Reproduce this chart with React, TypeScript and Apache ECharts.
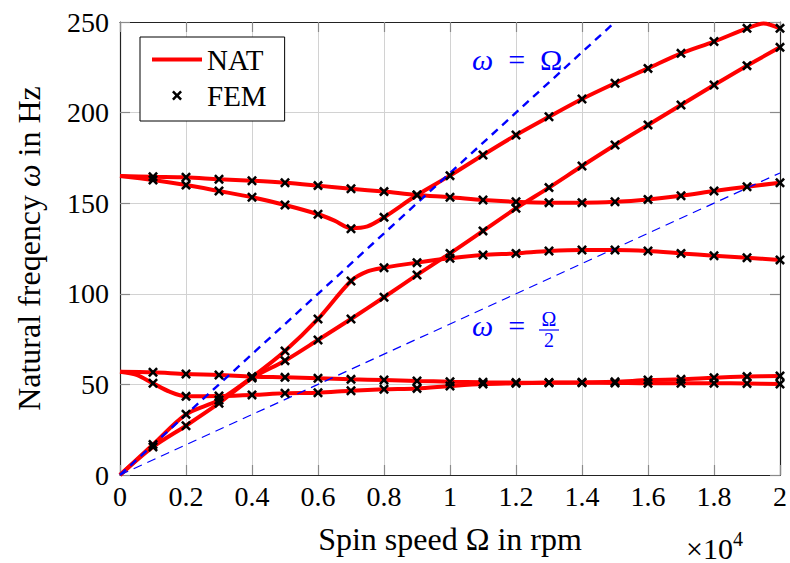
import { useEffect, useRef } from "react";
import * as echarts from "echarts";

// Spin speed in units of 10^4 rpm
const femSpeed = [0.1, 0.2, 0.3, 0.4, 0.5, 0.6, 0.7, 0.8, 0.9, 1.0, 1.1, 1.2, 1.3, 1.4, 1.5, 1.6, 1.7, 1.8, 1.9, 2.0];

// FEM natural frequencies (Hz), one array per mode
const femModeA = [56.7, 55.7, 55.2, 54.3, 53.9, 53.4, 52.8, 52.4, 51.9, 51.5, 51.2, 51.0, 50.9, 50.9, 50.8, 50.6, 50.6, 50.6, 50.5, 50.2];
const femModeB = [50.6, 43.4, 43.6, 44.2, 45.1, 45.4, 46.5, 47.3, 47.8, 49.1, 50.2, 50.6, 51.0, 51.2, 51.4, 52.4, 52.8, 53.7, 54.3, 54.6];
const femModeC = [16.8, 33.5, 41.4, 54.0, 68.4, 86.1, 107.1, 114.4, 117.2, 119.6, 121.4, 122.3, 123.6, 124.2, 124.2, 123.6, 122.3, 121.0, 119.9, 118.7];
const femModeD = [15.5, 27.2, 39.6, 53.5, 63.1, 74.5, 86.1, 98.1, 110.4, 122.3, 134.7, 147.2, 158.6, 170.5, 182.1, 193.2, 204.2, 215.2, 225.9, 236.0];
const femModeE = [164.6, 164.3, 163.2, 162.4, 161.3, 159.7, 158.0, 156.4, 154.5, 153.3, 151.8, 150.8, 150.3, 150.3, 150.8, 152.1, 154.1, 156.7, 159.1, 161.3];
const femModeF = [162.8, 160.0, 156.7, 153.3, 149.0, 143.9, 135.9, 142.2, 154.5, 165.2, 176.6, 187.6, 197.7, 207.5, 216.2, 224.4, 232.7, 239.2, 246.5, 246.5];

// NAT curves: [speed, frequency]
const natModeA: [number, number][] = [[0, 57.0], [0.1, 56.7], [0.2, 55.7], [0.3, 55.2], [0.4, 54.3], [0.5, 53.9], [0.6, 53.4], [0.7, 52.8], [0.8, 52.4], [0.9, 51.9], [1.0, 51.5], [1.1, 51.2], [1.2, 51.0], [1.3, 50.9], [1.4, 50.9], [1.5, 50.8], [1.6, 50.6], [1.7, 50.6], [1.8, 50.6], [1.9, 50.5], [2.0, 50.2]];
const natModeB: [number, number][] = [[0, 57.0], [0.05, 55.3], [0.1, 50.6], [0.15, 46.0], [0.2, 43.4], [0.3, 43.6], [0.4, 44.2], [0.5, 45.1], [0.6, 45.4], [0.7, 46.5], [0.8, 47.3], [0.9, 47.8], [1.0, 49.1], [1.1, 50.2], [1.2, 50.6], [1.3, 51.0], [1.4, 51.2], [1.5, 51.4], [1.6, 52.4], [1.7, 52.8], [1.8, 53.7], [1.9, 54.3], [2.0, 54.6]];
const natModeC: [number, number][] = [[0, 0], [0.1, 16.8], [0.2, 33.5], [0.3, 41.4], [0.4, 54.0], [0.5, 68.4], [0.6, 86.1], [0.7, 107.1], [0.75, 112.4], [0.8, 114.4], [0.9, 117.2], [1.0, 119.6], [1.1, 121.4], [1.2, 122.3], [1.3, 123.6], [1.4, 124.2], [1.5, 124.2], [1.6, 123.6], [1.7, 122.3], [1.8, 121.0], [1.9, 119.9], [2.0, 118.7]];
const natModeD: [number, number][] = [[0, 0], [0.1, 15.5], [0.2, 27.2], [0.3, 39.6], [0.4, 53.5], [0.5, 63.1], [0.6, 74.5], [0.7, 86.1], [0.8, 98.1], [0.9, 110.4], [1.0, 122.3], [1.1, 134.7], [1.2, 147.2], [1.3, 158.6], [1.4, 170.5], [1.5, 182.1], [1.6, 193.2], [1.7, 204.2], [1.8, 215.2], [1.9, 225.9], [2.0, 236.0]];
const natModeE: [number, number][] = [[0, 165.0], [0.1, 164.6], [0.2, 164.3], [0.3, 163.2], [0.4, 162.4], [0.5, 161.3], [0.6, 159.7], [0.7, 158.0], [0.8, 156.4], [0.9, 154.5], [1.0, 153.3], [1.1, 151.8], [1.2, 150.8], [1.3, 150.3], [1.4, 150.3], [1.5, 150.8], [1.6, 152.1], [1.7, 154.1], [1.8, 156.7], [1.9, 159.1], [2.0, 161.3]];
const natModeF: [number, number][] = [[0, 165.0], [0.1, 162.8], [0.2, 160.0], [0.3, 156.7], [0.4, 153.3], [0.5, 149.0], [0.6, 143.9], [0.65, 140.4], [0.7, 136.2], [0.75, 137.2], [0.8, 142.2], [0.9, 154.5], [1.0, 165.2], [1.1, 176.6], [1.2, 187.6], [1.3, 197.7], [1.4, 207.5], [1.5, 216.2], [1.6, 224.4], [1.7, 232.7], [1.8, 239.2], [1.9, 246.5], [1.95, 249.2], [2.0, 246.5]];

// Reference lines omega = Omega and omega = Omega/2
const lineOmega: [number, number][] = [[0, 0], [1.5, 250]];
const lineHalfOmega: [number, number][] = [[0, 0], [2.0, 166.7]];

const xTickMin = 0, xTickMax = 2, xTickStep = 0.2;
const yTickMin = 0, yTickMax = 250, yTickStep = 50;

const SERIF = "Liberation Serif";
const CROSS = "path://M0,1.8L1.8,0L5,3.2L8.2,0L10,1.8L6.8,5L10,8.2L8.2,10L5,6.8L1.8,10L0,8.2L3.2,5Z";
const LEGEND_LINE = "path://M0,0h0.01v0.01h-0.01z M50,10h-0.01v-0.01h0.01z M0,3h50v4h-50z";

export default function App() {
  const ref = useRef<HTMLDivElement>(null);
  useEffect(() => {
    if (!ref.current) return;
    const chart = echarts.init(ref.current, undefined, { renderer: "svg" });
    const natModes = [natModeA, natModeB, natModeC, natModeD, natModeE, natModeF];
    const femModes = [femModeA, femModeB, femModeC, femModeD, femModeE, femModeF];
    const femData: [number, number][] = [];
    femModes.forEach((m) => m.forEach((v, i) => femData.push([femSpeed[i], v])));

    const frameLine = { show: true, onZero: false, lineStyle: { color: "#222", width: 1.2 } };
    const tick = { show: true, inside: true, length: 10, lineStyle: { color: "#8a8a8a", width: 1.2 } };
    const blue = "#0000ff";

    const option: any = {
      animation: false,
      backgroundColor: "#fff",
      textStyle: { fontFamily: SERIF },
      grid: { left: 120, right: 7, top: 22, bottom: 88, containLabel: false },
      legend: {
        data: [{ name: "NAT", icon: LEGEND_LINE }, { name: "FEM" }],
        orient: "vertical",
        left: 140,
        top: 37,
        itemWidth: 50,
        itemHeight: 10,
        itemGap: 7,
        padding: [8, 18, 11, 12],
        backgroundColor: "#fff",
        borderColor: "#000",
        borderWidth: 1,
        textStyle: { fontFamily: SERIF, fontSize: 29, color: "#000" },
        z: 10,
      },
      xAxis: [
        {
          type: "value",
          min: xTickMin,
          max: xTickMax,
          interval: xTickStep,
          position: "bottom",
          axisLine: frameLine,
          axisTick: tick,
          splitLine: { show: true, lineStyle: { color: "#d2d2d2", width: 1 } },
          axisLabel: {
            fontFamily: SERIF,
            fontSize: 28,
            color: "#000",
            margin: 7,
            formatter: (v: number) => String(Math.round(v * 10) / 10),
          },
          name: "Spin speed Ω in rpm",
          nameLocation: "middle",
          nameGap: 48,
          nameTextStyle: { fontFamily: SERIF, fontSize: 32, color: "#000" },
        },
        {
          type: "value",
          min: xTickMin,
          max: xTickMax,
          interval: xTickStep,
          position: "top",
          axisLine: frameLine,
          axisTick: tick,
          axisLabel: { show: false },
          splitLine: { show: false },
        },
      ],
      yAxis: [
        {
          type: "value",
          min: yTickMin,
          max: yTickMax,
          interval: yTickStep,
          position: "left",
          axisLine: frameLine,
          axisTick: tick,
          splitLine: { show: true, lineStyle: { color: "#d2d2d2", width: 1 } },
          axisLabel: { fontFamily: SERIF, fontSize: 28, color: "#000", margin: 11 },
          name: "{a|Natural freqency }{b|ω}{a| in Hz}",
          nameLocation: "middle",
          nameGap: 75,
          nameTextStyle: {
            fontFamily: SERIF,
            fontSize: 32,
            color: "#000",
            rich: {
              a: { fontFamily: SERIF, fontSize: 32, color: "#000" },
              b: { fontFamily: SERIF, fontSize: 32, fontStyle: "italic", color: "#000" },
            },
          },
        },
        {
          type: "value",
          min: yTickMin,
          max: yTickMax,
          interval: yTickStep,
          position: "right",
          axisLine: frameLine,
          axisTick: tick,
          axisLabel: { show: false },
          splitLine: { show: false },
        },
      ],
      series: [
        ...natModes.map((d) => ({
          name: "NAT",
          type: "line",
          data: d,
          smooth: 0.3,
          symbol: "none",
          lineStyle: { color: "#ff0000", width: 4 },
          itemStyle: { color: "#ff0000" },
          z: 2,
        })),
        {
          name: "omega",
          type: "line",
          data: lineOmega,
          symbol: "none",
          lineStyle: { color: blue, width: 2.4, type: [8, 6] },
          z: 3,
        },
        {
          name: "omegaHalf",
          type: "line",
          data: lineHalfOmega,
          symbol: "none",
          lineStyle: { color: blue, width: 1.2, type: [9, 6] },
          z: 3,
        },
        {
          name: "FEM",
          type: "scatter",
          data: femData,
          symbol: CROSS,
          symbolSize: 10,
          symbolKeepAspect: true,
          itemStyle: { color: "#000", opacity: 1 },
          z: 4,
        },
      ],
      graphic: [
        {
          type: "text",
          x: 472,
          y: 59,
          z: 5,
          style: {
            text: "{i|ω}\u2002=\u2002Ω",
            fontFamily: SERIF,
            fontSize: 30,
            fill: blue,
            verticalAlign: "middle",
            rich: { i: { fontFamily: SERIF, fontSize: 30, fontStyle: "italic", fill: blue } },
          },
        },
        {
          type: "text",
          x: 472,
          y: 325,
          z: 5,
          style: {
            text: "{i|ω}\u2002=",
            fontFamily: SERIF,
            fontSize: 30,
            fill: blue,
            verticalAlign: "middle",
            rich: { i: { fontFamily: SERIF, fontSize: 30, fontStyle: "italic", fill: blue } },
          },
        },
        {
          type: "text",
          x: 549,
          y: 318.5,
          z: 5,
          style: { text: "Ω", fontFamily: SERIF, fontSize: 20, fill: blue, align: "center", verticalAlign: "middle" },
        },
        {
          type: "line",
          z: 5,
          shape: { x1: 539, y1: 330, x2: 559, y2: 330 },
          style: { stroke: blue, lineWidth: 1.2 },
        },
        {
          type: "text",
          x: 549,
          y: 339.5,
          z: 5,
          style: { text: "2", fontFamily: SERIF, fontSize: 20, fill: blue, align: "center", verticalAlign: "middle" },
        },
        {
          type: "text",
          x: 686,
          y: 548,
          z: 5,
          style: { text: "×10", fontFamily: SERIF, fontSize: 30, fill: "#000", verticalAlign: "middle" },
        },
        {
          type: "text",
          x: 733,
          y: 539,
          z: 5,
          style: { text: "4", fontFamily: SERIF, fontSize: 20, fill: "#000", verticalAlign: "middle" },
        },
      ],
    };
    chart.setOption(option);
    return () => chart.dispose();
  }, []);
  return <div ref={ref} style={{ position: "absolute", left: 0, top: 0, width: 790, height: 563 }} />;
}
